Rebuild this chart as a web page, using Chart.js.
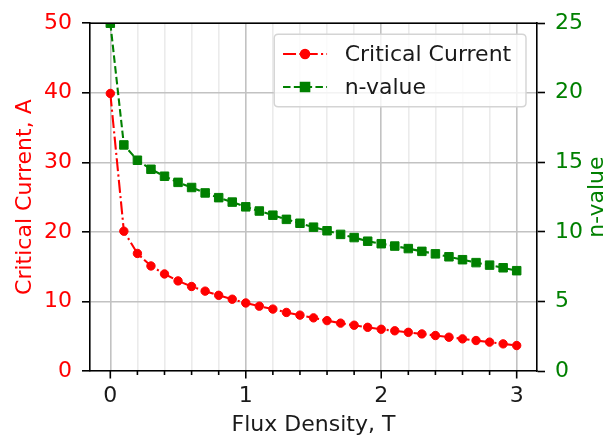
<!DOCTYPE html>
<html>
<head>
<meta charset="utf-8">
<script src="https://cdn.jsdelivr.net/npm/chart.js@4/dist/chart.umd.min.js"></script>
<style>
  html, body { margin: 0; padding: 0; background: #ffffff; }
  #wrap { width: 607px; height: 444px; }
</style>
</head>
<body>
<div id="wrap"><canvas id="chart" width="607" height="444"></canvas></div>
<script>
// Flux density sweep (T)
const fluxDensity = [0.0, 0.1, 0.2, 0.3, 0.4, 0.5, 0.6, 0.7, 0.8, 0.9,
                     1.0, 1.1, 1.2, 1.3, 1.4, 1.5, 1.6, 1.7, 1.8, 1.9,
                     2.0, 2.1, 2.2, 2.3, 2.4, 2.5, 2.6, 2.7, 2.8, 2.9, 3.0];
// Critical current (A)
const criticalCurrent = [39.9, 20.1, 16.9, 15.1, 13.95, 12.95, 12.15, 11.48, 10.88, 10.32,
                         9.78, 9.32, 8.9, 8.42, 8.03, 7.64, 7.24, 6.88, 6.58, 6.28,
                         6.0, 5.78, 5.56, 5.33, 5.1, 4.86, 4.62, 4.38, 4.15, 3.9, 3.66];
// n-value (dimensionless)
const nValue = [25.0, 16.25, 15.15, 14.5, 14.0, 13.56, 13.19, 12.8, 12.46, 12.14,
                11.8, 11.5, 11.2, 10.9, 10.62, 10.34, 10.08, 9.82, 9.59, 9.33,
                9.15, 8.98, 8.8, 8.6, 8.42, 8.21, 8.0, 7.79, 7.61, 7.42, 7.21];

// Axis ticks
const xMajorTicks = [0, 1, 2, 3];
const xMinorTicks = [0.2, 0.4, 0.6, 0.8, 1.2, 1.4, 1.6, 1.8, 2.2, 2.4, 2.6, 2.8];
const xTickLabels = ['0', '1', '2', '3'];
const yLeftTicks = [0, 10, 20, 30, 40, 50];
const yRightTicks = [0, 5, 10, 15, 20, 25];

const seriesNames = ['Critical Current', 'n-value'];
const axisTitles = { x: 'Flux Density, T', left: 'Critical Current, A', right: 'n-value' };

const RED = '#ff0000';
const GREEN = '#008000';
const FONT = 'DejaVu Sans';
const FS = 22;
const LW = 2.1;
const redDash = [13, 3.3, 2.1, 3.3];
const greenDash = [7.5, 3.3];

const isMajorX = v => xMajorTicks.some(m => Math.abs(m - v) < 1e-9);

const allXTicks = xMajorTicks.concat(xMinorTicks).sort((a, b) => a - b);

// Extra decorations: top spine, x tick marks, right axis title, legend
const decorations = {
  id: 'decorations',
  afterDraw(chart) {
    const { ctx, chartArea: a, scales } = chart;
    const xs = scales.x;
    ctx.save();

    // top spine
    ctx.strokeStyle = '#000';
    ctx.lineWidth = 1.6;
    ctx.beginPath();
    ctx.moveTo(a.left - 0.8, a.top);
    ctx.lineTo(a.right + 0.8, a.top);
    ctx.stroke();

    // x tick marks (major and minor)
    ctx.lineWidth = 1.6;
    allXTicks.forEach(v => {
      const px = xs.getPixelForValue(v);
      const len = isMajorX(v) ? 7.5 : 4;
      ctx.beginPath();
      ctx.moveTo(px, a.bottom);
      ctx.lineTo(px, a.bottom + len);
      ctx.stroke();
    });

    // right axis title, reading bottom to top
    ctx.fillStyle = GREEN;
    ctx.font = FS + 'px "' + FONT + '"';
    ctx.textAlign = 'center';
    ctx.textBaseline = 'middle';
    ctx.translate(597, (a.top + a.bottom) / 2);
    ctx.rotate(-Math.PI / 2);
    ctx.fillText(axisTitles.right, 0, 0);
    ctx.restore();

    // legend
    ctx.save();
    ctx.font = FS + 'px "' + FONT + '"';
    const pad = 0.5 * FS;
    const border = 0.4 * FS;
    const handleLen = 2 * FS;
    const handleGap = 0.8 * FS;
    const rowH = FS;
    const rowSpace = 0.5 * FS;
    const textW = Math.max(...seriesNames.map(s => ctx.measureText(s).width));
    const boxW = border + handleLen + handleGap + textW + border + 6;
    const boxH = border * 2 + rowH * 2 + rowSpace;
    const bx = a.right - pad - boxW;
    const by = a.top + pad;
    const r = 4;
    ctx.beginPath();
    ctx.moveTo(bx + r, by);
    ctx.lineTo(bx + boxW - r, by);
    ctx.quadraticCurveTo(bx + boxW, by, bx + boxW, by + r);
    ctx.lineTo(bx + boxW, by + boxH - r);
    ctx.quadraticCurveTo(bx + boxW, by + boxH, bx + boxW - r, by + boxH);
    ctx.lineTo(bx + r, by + boxH);
    ctx.quadraticCurveTo(bx, by + boxH, bx, by + boxH - r);
    ctx.lineTo(bx, by + r);
    ctx.quadraticCurveTo(bx, by, bx + r, by);
    ctx.closePath();
    ctx.fillStyle = 'rgba(255,255,255,0.8)';
    ctx.fill();
    ctx.strokeStyle = '#d4d4d4';
    ctx.lineWidth = 1.4;
    ctx.stroke();

    chart.data.datasets.forEach((ds, i) => {
      const cy = by + border + rowH / 2 + i * (rowH + rowSpace);
      const hx = bx + border;
      ctx.strokeStyle = ds.borderColor;
      ctx.lineWidth = ds.borderWidth;
      ctx.setLineDash(ds.borderDash);
      ctx.beginPath();
      ctx.moveTo(hx, cy);
      ctx.lineTo(hx + handleLen, cy);
      ctx.stroke();
      ctx.setLineDash([]);
      Chart.helpers.drawPoint(ctx, {
        pointStyle: ds.pointStyle,
        radius: ds.pointRadius,
        rotation: 0,
        borderWidth: ds.pointBorderWidth
      }, hx + handleLen / 2, cy);
      ctx.fillStyle = ds.pointBackgroundColor;
      ctx.strokeStyle = ds.pointBorderColor;
      ctx.fill();
      ctx.lineWidth = ds.pointBorderWidth;
      ctx.stroke();
      ctx.fillStyle = '#1a1a1a';
      ctx.textAlign = 'left';
      ctx.textBaseline = 'middle';
      ctx.fillText(seriesNames[i], hx + handleLen + handleGap, cy + 1);
    });
    ctx.restore();
  }
};

new Chart(document.getElementById('chart'), {
  type: 'line',
  data: {
    datasets: [
      {
        label: seriesNames[0],
        data: fluxDensity.map((x, i) => ({ x, y: criticalCurrent[i] })),
        yAxisID: 'y',
        borderColor: RED,
        backgroundColor: RED,
        borderWidth: LW,
        borderDash: redDash,
        pointStyle: 'circle',
        pointRadius: 4.2,
        pointBorderWidth: 1,
        pointBackgroundColor: RED,
        pointBorderColor: RED,
        tension: 0,
        fill: false
      },
      {
        label: seriesNames[1],
        data: fluxDensity.map((x, i) => ({ x, y: nValue[i] })),
        yAxisID: 'y1',
        borderColor: GREEN,
        backgroundColor: GREEN,
        borderWidth: LW,
        borderDash: greenDash,
        pointStyle: 'rect',
        pointRadius: 6.0,
        pointBorderWidth: 1,
        pointBackgroundColor: GREEN,
        pointBorderColor: GREEN,
        tension: 0,
        fill: false
      }
    ]
  },
  options: {
    responsive: false,
    animation: false,
    devicePixelRatio: 1,
    layout: { padding: { top: 14, left: 0, right: 0, bottom: 0 } },
    plugins: {
      legend: { display: false },
      tooltip: { enabled: false }
    },
    scales: {
      x: {
        type: 'linear',
        position: 'bottom',
        min: -0.15,
        max: 3.15,
        afterBuildTicks: s => { s.ticks = allXTicks.map(v => ({ value: v })); },
        afterFit: s => { s.height = 73; },
        ticks: {
          autoSkip: false,
          maxRotation: 0,
          padding: 4,
          color: '#1a1a1a',
          font: { family: FONT, size: FS },
          callback: v => {
            const k = xMajorTicks.findIndex(m => Math.abs(m - v) < 1e-9);
            return k >= 0 ? xTickLabels[k] : '';
          }
        },
        grid: {
          color: c => (c.tick && isMajorX(c.tick.value)) ? '#c2c2c2' : '#ebebeb',
          lineWidth: 1.6,
          drawTicks: true,
          tickLength: 8,
          tickColor: 'rgba(0,0,0,0)'
        },
        border: { display: true, color: '#000', width: 1.6 },
        title: {
          display: true,
          text: axisTitles.x,
          color: '#1a1a1a',
          font: { family: FONT, size: FS, lineHeight: 1.2 },
          padding: { top: 0, bottom: 6 }
        }
      },
      y: {
        type: 'linear',
        position: 'left',
        min: 0,
        max: 50,
        afterBuildTicks: s => { s.ticks = yLeftTicks.map(v => ({ value: v })); },
        afterFit: s => { s.width = 90; },
        ticks: {
          padding: 10,
          color: RED,
          font: { family: FONT, size: FS }
        },
        grid: {
          color: '#c2c2c2',
          lineWidth: 1.6,
          drawTicks: true,
          tickLength: 8,
          tickColor: '#000',
          tickWidth: 1.6
        },
        border: { display: true, color: '#000', width: 1.6 },
        title: {
          display: true,
          text: axisTitles.left,
          color: RED,
          font: { family: FONT, size: FS, lineHeight: 1.2 },
          padding: { top: 12, bottom: 0 }
        }
      },
      y1: {
        type: 'linear',
        position: 'right',
        min: 0,
        max: 25,
        afterBuildTicks: s => { s.ticks = yRightTicks.map(v => ({ value: v })); },
        afterFit: s => { s.width = 70; },
        ticks: {
          padding: 10,
          color: GREEN,
          font: { family: FONT, size: FS }
        },
        grid: {
          drawOnChartArea: false,
          drawTicks: true,
          tickLength: 8,
          tickColor: '#000',
          tickWidth: 1.6
        },
        border: { display: true, color: '#000', width: 1.6 }
      }
    }
  },
  plugins: [decorations]
});
</script>
</body>
</html>
